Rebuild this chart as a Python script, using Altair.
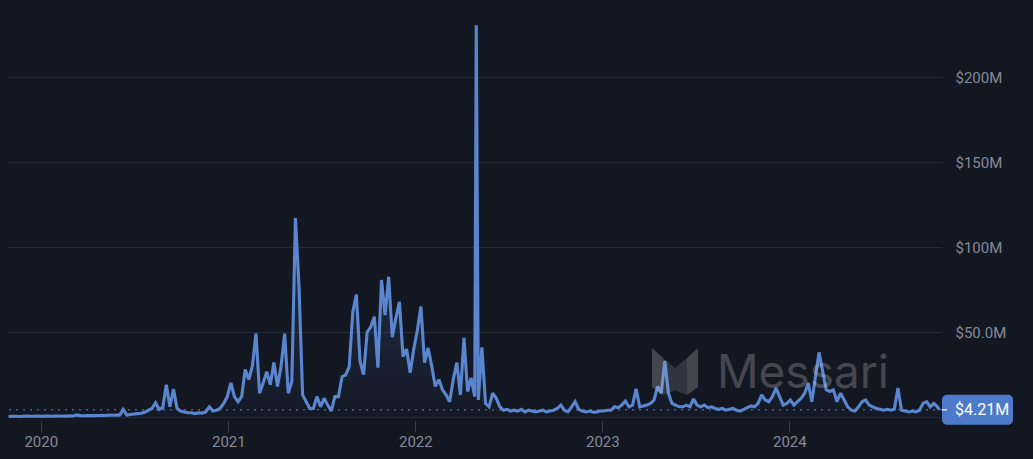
import altair as alt
import pandas as pd

# ---------------- data (values in $M, weekly samples) ----------------
start_date = "2019-10-30"
seg_2019_2020a = [0.3, 0.4, 0.4, 0.3, 0.4, 0.5, 0.4, 0.4, 0.5, 0.4, 0.5, 0.5, 0.4, 0.5, 0.6,
                  0.6, 0.5, 0.7, 0.6, 1.2, 0.8, 0.7, 0.8, 0.9, 0.8, 0.9,
                  1.0, 0.9, 1.1, 1.0, 1.2, 1.1, 4.5]
seg_2020b = [1.2, 1.5, 1.8, 2.0, 2.2, 2.8, 4.0, 5.0, 8.4, 4.5, 5.5, 19, 6.0, 16.5, 5.0, 3.5,
             3.0, 2.5, 2.5, 2.0, 2.5, 2.3, 3.0, 6.0, 3.5, 4.0, 5.0]
seg_2021a = [8, 12, 20, 12, 9, 12, 28, 22, 30, 49, 14, 20, 26.6, 19, 32, 18, 30, 49, 14, 21]
seg_2021b = [117, 77, 13, 9, 5, 5, 12, 6, 11, 7, 3.5, 12, 12, 23.7, 24.7, 29.6, 62, 72, 33, 25]
seg_2021c = [50, 53, 59, 29, 80.6, 60, 82.5, 47, 58, 67.8, 35.5, 40, 26, 40, 51, 65, 32, 40.6, 30, 18]
seg_2022a = [22, 16, 13, 9, 22, 32, 13, 46.5, 15, 23, 12, 10, 41, 8, 6, 14, 11, 6, 4]
seg_2022b = [4.5, 3.5, 4, 3.5, 4.5, 3, 4, 3.5, 3, 3.5, 4, 3, 3.5, 4, 5]
seg_2023a = [7, 4, 3, 6, 9, 4.5, 3.5, 3, 3.5, 2.8, 3, 3.5, 3.5, 4, 4, 6, 5.5, 7, 9.4, 6, 7,
             16.5, 6, 6.5, 7]
seg_2023b = [8, 10, 18, 14, 33, 14, 8, 7, 6, 6, 7, 6, 10.6, 7, 6, 7, 5.5, 6, 5, 4.5, 5, 4,
             4.5, 5, 4, 3.5, 4.5, 5.5, 6.5, 6, 8]
seg_2024 = [13, 10, 9, 12, 17, 12, 7, 8, 10, 7, 9, 11, 14, 20, 9, 24, 38, 27, 16, 15, 16, 9,
            14, 10, 6, 4, 3.5, 6, 9, 10, 7, 6, 5, 4.5, 4, 4.5, 4, 4.5, 17, 4, 3.5, 3, 3.5,
            3, 4, 8, 9, 6, 8, 6]
weekly_values = (seg_2019_2020a + seg_2020b + seg_2021a + seg_2021b + seg_2021c + seg_2022a
                 + seg_2022b + seg_2023a + seg_2023b + seg_2024)

extra_dates = ["2022-04-30", "2024-10-20"]
extra_values = [230.5, 4.21]

last_value = [4.21]
last_label = ["$4.21M"]

y_ticks = [0, 50, 100, 150, 200]
y_tick_labels = ["", "$50.0M", "$100M", "$150M", "$200M"]

watermark_text = ["Messari"]

# ---------------- table ----------------
weekly_dates = pd.date_range(start_date, periods=len(weekly_values), freq="7D").strftime("%Y-%m-%d").tolist()
df = pd.DataFrame({"date": weekly_dates + extra_dates, "v": weekly_values + extra_values})
df = df.sort_values("date").reset_index(drop=True)

last_df = pd.DataFrame({"v": last_value, "label": last_label})
wm_df = pd.DataFrame({"t": watermark_text})

# ---------------- styles ----------------
BG = "#131722"
LINE = "#5a86cf"
GRID = "#262a36"
LABEL = "#868a96"
FONT = "Roboto"

label_expr = " : ".join(
    f"datum.value == {v} ? '{l}'" for v, l in zip(y_ticks, y_tick_labels)
) + " : ''"

x_enc = alt.X(
    "date:T",
    scale=alt.Scale(
        type="utc",
        domain=[alt.DateTime(year=2019, month=10, date=29, utc=True),
                alt.DateTime(year=2024, month=10, date=25, utc=True)],
        nice=False,
    ),
    axis=alt.Axis(
        title=None, format="%Y", formatType="utc", tickCount="year", grid=False,
        domain=False, ticks=True, tickSize=11, tickColor="#3a3e4a", offset=4,
        labelPadding=2, labelFontSize=15, labelColor=LABEL, labelFont=FONT,
    ),
)
y_scale = alt.Scale(domain=[0, 240.6], nice=False, zero=True)
y_enc = alt.Y(
    "v:Q", scale=y_scale,
    axis=alt.Axis(
        title=None, orient="right", values=y_ticks, labelExpr=label_expr, grid=True,
        gridColor=GRID, gridWidth=1, domain=False, ticks=False, labelPadding=13,
        labelFontSize=15, labelColor=LABEL, labelFont=FONT,
    ),
)

grad = alt.Gradient(
    gradient="linear",
    stops=[alt.GradientStop(color="rgba(90,134,207,0.32)", offset=0),
           alt.GradientStop(color="rgba(90,134,207,0.14)", offset=0.7),
           alt.GradientStop(color="rgba(90,134,207,0.02)", offset=1)],
    x1=1, x2=1, y1=0, y2=1,
)

base = alt.Chart(df)
area = base.mark_area(color=grad, interpolate="linear").encode(x=x_enc, y=y_enc)
line = base.mark_line(color=LINE, strokeWidth=3.1, strokeJoin="miter", strokeMiterLimit=2).encode(
    x="date:T", y="v:Q")

dotted = alt.Chart(last_df).mark_rule(color=LINE, strokeWidth=1, strokeDash=[2, 5]).encode(y="v:Q")
box = alt.Chart(last_df).mark_rect(color="#4e7bc9", cornerRadius=5, yOffset=-15, y2Offset=15).encode(
    x=alt.value(934), x2=alt.value(1005), y="v:Q", y2="v:Q")
dash = alt.Chart(last_df).mark_rule(color="#ffffff", strokeWidth=1.2).encode(
    x=alt.value(934), x2=alt.value(939), y="v:Q")
box_text = alt.Chart(last_df).mark_text(
    align="left", baseline="middle", fontSize=16, font=FONT, color="#ffffff"
).encode(x=alt.value(947), y="v:Q", text="label:N")

logo_outer = ("M-0.96,-0.98 L-0.5,-0.56 L-0.5,0.98 L-0.96,0.65 Z "
              "M0.96,-0.98 L0.5,-0.56 L0.5,0.98 L0.96,0.65 Z")
logo_inner = ("M-0.5,-0.56 L0,-0.15 L0,0.78 L-0.5,0.98 Z "
              "M0.5,-0.56 L0,-0.15 L0,0.78 L0.5,0.98 Z")
wm_outer = alt.Chart(wm_df).mark_point(
    shape=logo_outer, filled=True, size=2304, color="#c8c8cd", opacity=0.27, strokeWidth=0
).encode(x=alt.value(667), y=alt.value(363.5))
wm_inner = alt.Chart(wm_df).mark_point(
    shape=logo_inner, filled=True, size=2304, color="#c8c8cd", opacity=0.17, strokeWidth=0
).encode(x=alt.value(667), y=alt.value(363.5))
wm_text = alt.Chart(wm_df).mark_text(
    align="left", baseline="alphabetic", fontSize=46, font="Inter", color="#c8c8cd", opacity=0.27
).encode(x=alt.value(709), y=alt.value(380), text="t:N")

chart = (
    alt.layer(area, line, dotted, wm_outer, wm_inner, wm_text, box, dash, box_text)
    .properties(
        width=934, height=409, background=BG,
        autosize=alt.AutoSizeParams(type="none"),
        padding={"left": 0, "top": 0, "right": 83, "bottom": 34},
    )
    .configure_view(stroke=None)
)

chart.save("out.html", embed_options={"renderer": "svg", "actions": False,
                                      "defaultStyle": "body{background:#131722;}"})
